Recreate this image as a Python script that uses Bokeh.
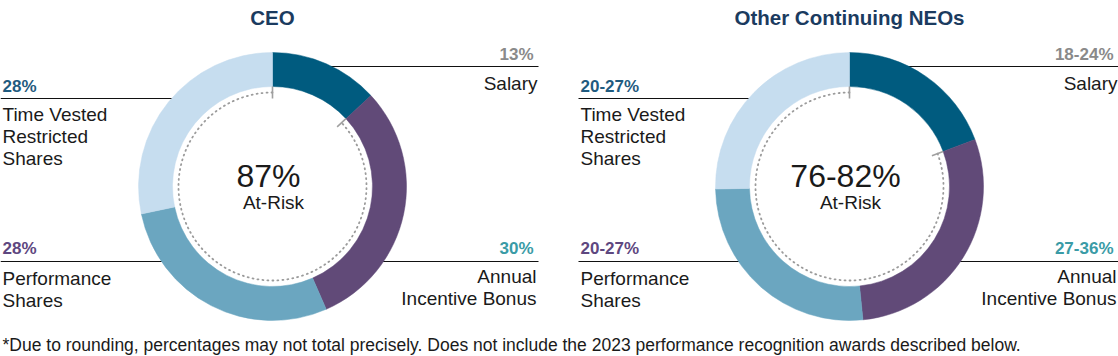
import math
from bokeh.plotting import figure
from bokeh.models import Range1d
from bokeh.core.properties import value
from bokeh.embed import file_html
from bokeh.resources import INLINE

# ---------------- data ----------------
categories = ["Salary", "Annual Incentive Bonus", "Performance Shares", "Time Vested Restricted Shares"]
ceo_values = [13, 30, 28, 28]
neo_values = [19.3, 29.1, 26.3, 25.3]          # drawn shares of the ranged donut
ceo_labels = ["13%", "30%", "28%", "28%"]
neo_labels = ["18-24%", "27-36%", "20-27%", "20-27%"]
titles = ["CEO", "Other Continuing NEOs"]
at_risk = ["87%", "76-82%"]
at_risk_caption = "At-Risk"
footnote = ("*Due to rounding, percentages may not total precisely. Does not include the "
            "2023 performance recognition awards described below.")

seg_colors = ["#005b7f", "#614a78", "#6ba6c0", "#c6ddef"]
label_colors = ["#8a8a8a", "#3a9ba6", "#5e4780", "#1f5b80"]
TITLE_COLOR = "#1b3b5f"
TEXT_COLOR = "#1a1a1a"
FONT = "Liberation Sans"

# ---------------- layout ----------------
W, H = 1118, 356
BASE_FIX = 0.31   # text box offset (em) between requested and drawn baseline

def Y(ry):
    return H - ry

p = figure(width=W, height=H, x_range=Range1d(0, W), y_range=Range1d(0, H),
           output_backend="svg", toolbar_location=None, min_border=0)
p.axis.visible = False
p.grid.visible = False
p.outline_line_color = None
p.background_fill_color = "white"
p.border_fill_color = "white"

def txt(x, yb, s, size, color, align="left", bold=False):
    p.text(x=[x], y=[Y(yb - BASE_FIX * size)], text=[s], text_font=value(FONT),
           text_font_size=f"{size:.1f}px", text_color=color, text_align=align,
           text_baseline="alphabetic", text_font_style="bold" if bold else "normal")

centers = [272, 849]
CY = 186
R_OUT, R_IN, R_DOT = 134, 100, 94
panel_left = [0, 578]
panel_right = [538, 1118]

def edge_x(cx, ry, side):
    dy = CY - ry
    dx = math.sqrt(max(R_OUT * R_OUT - dy * dy, 0)) - 10
    return cx + side * dx

for i, (vals, labs) in enumerate([(ceo_values, ceo_labels), (neo_values, neo_labels)]):
    cx = centers[i]
    L, Rr = panel_left[i], panel_right[i]
    # leader lines (drawn under the ring)
    p.segment(x0=[edge_x(cx, 66, 1), edge_x(cx, 261, 1), L, L],
              y0=[Y(66), Y(261), Y(98), Y(261)],
              x1=[Rr, Rr, edge_x(cx, 98, -1), edge_x(cx, 261, -1)],
              y1=[Y(66), Y(261), Y(98), Y(261)],
              line_color="#111111", line_width=1.2)
    total = sum(vals)
    cum = 0.0
    starts, ends = [], []
    for v in vals:
        t1 = cum / total * 2 * math.pi
        cum += v
        t2 = cum / total * 2 * math.pi
        starts.append(math.pi / 2 - t2)
        ends.append(math.pi / 2 - t1)
    p.annular_wedge(x=[cx] * 4, y=[Y(CY)] * 4, inner_radius=R_IN, outer_radius=R_OUT,
                    start_angle=starts, end_angle=ends, direction="anticlock",
                    fill_color=seg_colors, line_color=seg_colors, line_width=0.5)
    ts = vals[0] / total * 2 * math.pi
    # dotted at-risk arc
    p.arc(x=[cx], y=[Y(CY)], radius=R_DOT, start_angle=-1.5 * math.pi, end_angle=math.pi / 2 - ts,
          direction="anticlock", line_color="#9b9b9b", line_width=1.8, line_dash="1 4", line_cap="round")
    # ticks
    angs = [0.0, ts]
    p.segment(x0=[cx + R_IN * math.sin(a) for a in angs],
              y0=[Y(CY) + R_IN * math.cos(a) for a in angs],
              x1=[cx + 88 * math.sin(a) for a in angs],
              y1=[Y(CY) + 88 * math.cos(a) for a in angs],
              line_color="#a0a0a0", line_width=1.6)

    # titles and centre
    txt(cx, 23, titles[i], 20.5, TITLE_COLOR, "center", True)
    txt(cx - 4, 185, at_risk[i], 32, TEXT_COLOR, "center")
    txt(cx + 1, 207.5, at_risk_caption, 19, TEXT_COLOR, "center")

    # labels
    txt(Rr - 5, 59, labs[0], 17, label_colors[0], "right", True)
    txt(Rr - 1, 88.5, "Salary", 19, TEXT_COLOR, "right")
    txt(Rr - 5, 253, labs[1], 17, label_colors[1], "right", True)
    txt(Rr - 2, 281.5, "Annual", 19, TEXT_COLOR, "right")
    txt(Rr - 2, 303.5, "Incentive Bonus", 19, TEXT_COLOR, "right")
    txt(L + 2, 91, labs[3], 17, label_colors[3], "left", True)
    txt(L + 2, 119.5, "Time Vested", 19, TEXT_COLOR, "left")
    txt(L + 2, 141.5, "Restricted", 19, TEXT_COLOR, "left")
    txt(L + 2, 163.5, "Shares", 19, TEXT_COLOR, "left")
    txt(L + 2, 253, labs[2], 17, label_colors[2], "left", True)
    txt(L + 2, 283.5, "Performance", 19, TEXT_COLOR, "left")
    txt(L + 2, 305.5, "Shares", 19, TEXT_COLOR, "left")

txt(2, 350, footnote, 17.5, TEXT_COLOR, "left")

open("out.html", "w").write(file_html(p, INLINE))
